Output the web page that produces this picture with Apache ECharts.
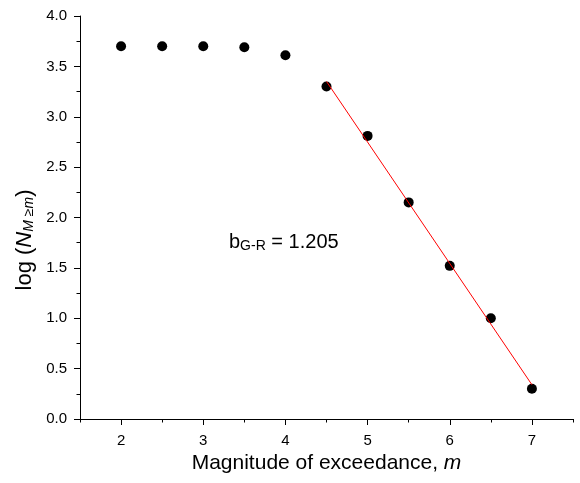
<!DOCTYPE html>
<html>
<head>
<meta charset="utf-8">
<script src="https://cdn.jsdelivr.net/npm/echarts@6/dist/echarts.min.js"></script>
<style>
  html, body { margin: 0; padding: 0; background: #fff; }
  #chart { width: 580px; height: 483px; }
</style>
</head>
<body>
<div id="chart"></div>
<script>
const magnitude = [2, 2.5, 3, 3.5, 4, 4.5, 5, 5.5, 6, 6.5, 7]
const logN = [3.70, 3.70, 3.70, 3.69, 3.61, 3.30, 2.81, 2.15, 1.52, 1.00, 0.30]
// Gutenberg-Richter fit, drawn over m = 4.5 .. 7
const fitX = [4.5, 7]
const fitY = [3.35, 0.34]
const xMajorTicks = [2, 3, 4, 5, 6, 7]
const xMinorTicks = [1.5, 2.5, 3.5, 4.5, 5.5, 6.5, 7.5]
const bValue = '1.205'

const font = 'Liberation Sans, Arial, sans-serif'
const chart = echarts.init(document.getElementById('chart'), null, { renderer: 'canvas' })

const option = {
  animation: false,
  textStyle: { fontFamily: font, color: '#000' },
  grid: { left: 80, right: 7, top: 16, bottom: 64 },
  xAxis: [{
    type: 'value',
    min: 1.5,
    max: 7.5,
    position: 'bottom',
    name: '{n|Magnitude of exceedance, }{i|m}',
    nameLocation: 'middle',
    nameGap: 34,
    nameTextStyle: {
      rich: {
        n: { fontSize: 21, fontFamily: font, color: '#000' },
        i: { fontSize: 21, fontFamily: font, fontStyle: 'italic', color: '#000' }
      }
    },
    splitLine: { show: false },
    axisLine: { lineStyle: { color: '#000', width: 1 } },
    axisTick: { inside: false, length: 6, lineStyle: { color: '#000' }, customValues: xMajorTicks },
    axisLabel: { customValues: xMajorTicks, margin: 14, fontSize: 15, color: '#000', fontFamily: font }
  }, {
    // minor ticks only
    type: 'value',
    min: 1.5,
    max: 7.5,
    position: 'bottom',
    splitLine: { show: false },
    axisLine: { show: false },
    axisTick: { inside: false, length: 3.5, lineStyle: { color: '#000' }, customValues: xMinorTicks },
    axisLabel: { show: false }
  }],
  yAxis: {
    type: 'value',
    min: 0,
    max: 4,
    interval: 0.5,
    splitLine: { show: false },
    axisLine: { show: true, lineStyle: { color: '#000', width: 1 } },
    axisTick: { show: true, inside: false, length: 6, lineStyle: { color: '#000' } },
    minorTick: { show: true, splitNumber: 2, length: 3.5, lineStyle: { color: '#000' } },
    axisLabel: {
      margin: 13, fontSize: 15, color: '#000', fontFamily: font,
      formatter: v => v.toFixed(1)
    }
  },
  graphic: [{
    type: 'text',
    x: 25,
    y: 240,
    rotation: Math.PI / 2,
    style: {
      text: '{n|log (}{i|N}{s|M ≥m}{n|)}',
      align: 'center',
      verticalAlign: 'middle',
      rich: {
        n: { fontSize: 22, fontFamily: font, fill: '#000', lineHeight: 26 },
        i: { fontSize: 22, fontFamily: font, fontStyle: 'italic', fill: '#000', lineHeight: 26 },
        s: { fontSize: 14, fontFamily: font, fontStyle: 'italic', fill: '#000', lineHeight: 26, padding: [9, 0, 0, 0] }
      }
    }
  }, {
    type: 'text',
    x: 229,
    y: 242,
    style: {
      text: '{n|b}{s|G-R}{n| = ' + bValue + '}',
      verticalAlign: 'middle',
      rich: {
        n: { fontSize: 20, fontFamily: font, fill: '#000', lineHeight: 26 },
        s: { fontSize: 14, fontFamily: font, fill: '#000', lineHeight: 26, padding: [9, 0, 0, 0] }
      }
    }
  }],
  series: [{
    type: 'line',
    data: fitX.map((x, i) => [x, fitY[i]]),
    symbol: 'none',
    lineStyle: { color: '#ff0000', width: 1 },
    z: 3
  }, {
    type: 'scatter',
    data: magnitude.map((m, i) => [m, logN[i]]),
    symbol: 'circle',
    symbolSize: 10,
    itemStyle: { color: '#000', opacity: 1 },
    z: 2
  }]
}

chart.setOption(option)
</script>
</body>
</html>
